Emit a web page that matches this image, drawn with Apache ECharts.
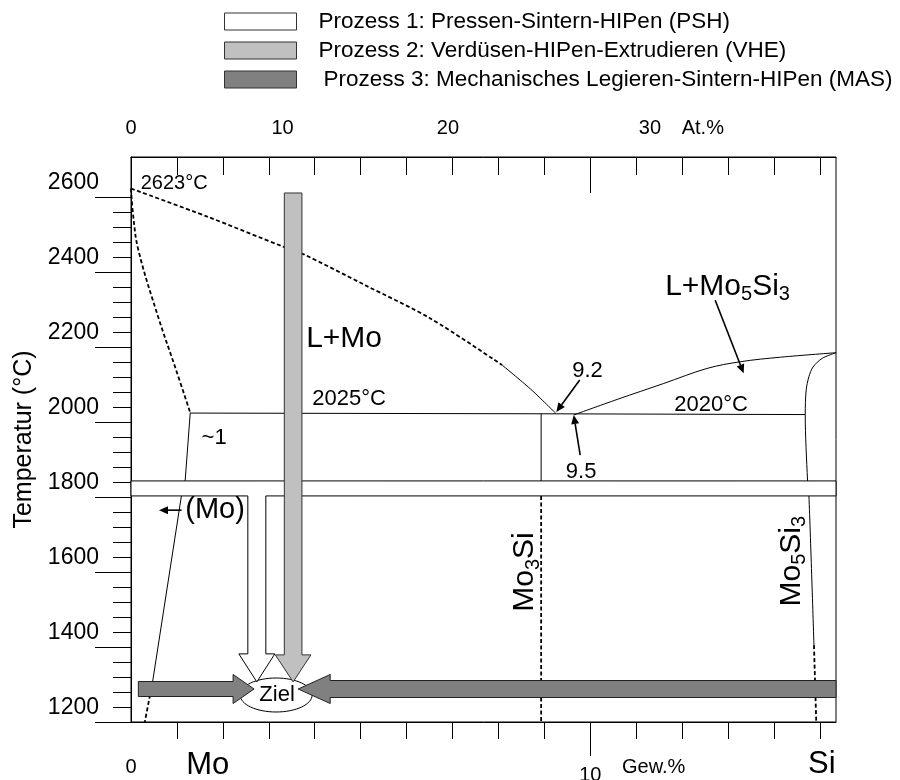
<!DOCTYPE html>
<html><head><meta charset="utf-8">
<script src="https://cdn.jsdelivr.net/npm/echarts@6/dist/echarts.min.js"></script>
<style>html,body{margin:0;padding:0;background:#fff}#c{width:900px;height:780px}</style>
</head><body><div id="c"></div>
<script>
// ===== data: x = Gew.% Si, y = Temperatur (°C) =====
const liquidusMoDashed = [[0,2623],[1.66,2548],[3.33,2467],[3.75,2448],[5.1,2365],[6.51,2277],[8.08,2152]];
const liquidusMoSolid  = [[8.08,2152],[8.7,2088],[9.26,2022]];
const solidusMo        = [[0,2623],[0.05,2548],[0.16,2459],[0.59,2281],[0.96,2147],[1.29,2025]];
const solvusMo         = [[1.29,2025],[1.18,1845],[1.1,1805],[0.47,1307]];
const solvusMoLow      = [[0.47,1307],[0.3,1200]];
const eutecticLine     = [[1.29,2024],[9.26,2022],[14.68,2020]];
const mo3SiUpper       = [[8.93,2022],[8.93,1820]];
const mo3SiLower       = [[8.93,1820],[8.93,1200]];
const liquidusMo5Si3   = [[9.64,2019],[10.6,2061],[11.6,2103],[12.54,2143],[13.27,2161],[14.14,2173],[15.35,2185]];
const mo5Si3Solvus     = [[15.35,2185],[15.05,2170],[14.85,2147],[14.76,2121],[14.70,2085],[14.68,2020],[14.73,1845],[14.76,1805],[14.87,1405]];
const mo5Si3Low        = [[14.87,1405],[14.92,1200]];

const processNames = [
  'Prozess 1: Pressen-Sintern-HIPen (PSH)',
  'Prozess 2: Verdüsen-HIPen-Extrudieren (VHE)',
  'Prozess 3: Mechanisches Legieren-Sintern-HIPen (MAS)'
];
const pshBand   = [1803, 1843];          // sintering temperature band (°C)
const pshPath   = [[2.74, 1307]];        // HIP arrow: x, tip temperature
const vhePath   = [[3.53, 2611, 1307]];  // x, start temperature, tip temperature
const masPaths  = [[0.16, 2.68, 1288], [15.35, 3.64, 1288]]; // tail x, tip x, temperature
const zielPoint = [[3.16, 1272]];
const pointerArrows = [[1.10,1765,0.61,1765],[9.77,2112,9.26,2027],[9.78,1912,9.64,2019],[12.72,2325,13.34,2130]];

const X_MIN = 0, X_MAX = 15.35, Y_MIN = 1200, Y_MAX = 2707;
const wtTicks = [1,2,3,4,5,6,7,8,9,10,11,12,13,14,15];
const tempMajor = [1200,1400,1600,1800,2000,2200,2400,2600];
const topAtLabels = ['0','10','20','30'];
const topAtPos = [0, 3.3, 6.9, 11.3];

// ===== annotations (text anchored in data coordinates) =====
const FONT = '"Liberation Sans", Arial, Helvetica, sans-serif';
const annotations = [
  {text:'2623°C', at:[0.21,2636], size:20, align:'left'},
  {text:'L+Mo', at:[4.64,2221], size:30},
  {text:'2025°C', at:[4.75,2061], size:22},
  {text:'~1', at:[1.81,1959], size:22},
  {text:'(Mo)', at:[1.83,1765], size:29},
  {text:'9.2', at:[9.94,2137], size:22},
  {text:'9.5', at:[9.80,1867], size:22},
  {text:'2020°C', at:[12.63,2045], size:22},
  {text:'{a|L+Mo}{s|5}{a|Si}{s|3}', at:[11.63,2361], size:30, align:'left', rich:true},
  {text:'{a|Mo}{s|3}{a|Si}', at:[8.58,1600], size:30, rich:true, rot:true},
  {text:'{a|Mo}{s|5}{a|Si}{s|3}', at:[14.38,1629], size:30, rich:true, rot:true},
  {text:'Ziel', at:[3.18,1272], size:22},
  {text:'Mo', at:[1.67,1084], size:31},
  {text:'Gew.%', at:[11.38,1080], size:20},
  {text:'Si', at:[15.04,1088], size:31},
  {text:'At.%', at:[11.99,2784], size:20, align:'left'}
];

function range(a,b,s){const r=[];for(let v=a;v<=b+1e-9;v+=s)r.push(v);return r;}
const tempMinor = range(1200,2600,40);

function lineSeries(data, dashed, smooth){
  return {type:'line', data:data, xAxisIndex:0, yAxisIndex:0, symbol:'none', showSymbol:false,
    smooth: smooth || false, silent:true, animation:false, z:2,
    lineStyle:{color:'#000', width: dashed ? 1.8 : 1, type: dashed ? [4,2.5] : 'solid'}};
}

function downArrowPts(api, xv, tTop, tTip, bw, hw, hl){
  const a = api.coord([xv, tTop]), b = api.coord([xv, tTip]); const cx = a[0];
  return [[cx-bw,a[1]],[cx+bw,a[1]],[cx+bw,b[1]-hl],[cx+hw,b[1]-hl],[cx,b[1]],[cx-hw,b[1]-hl],[cx-bw,b[1]-hl]];
}

const chart = echarts.init(document.getElementById('c'), null, {renderer:'canvas'});
const axisCommon = {type:'value', min:X_MIN, max:X_MAX, splitLine:{show:false}};
const yCommon = {type:'value', min:Y_MIN, max:Y_MAX, splitLine:{show:false}};
const plain = function(v){return String(v);};

const option = {
  animation:false,
  backgroundColor:'#fff',
  textStyle:{fontFamily:FONT, color:'#000'},
  legend:{
    data: processNames, orient:'vertical', left:224, top:10, padding:0, itemWidth:72, itemHeight:17, itemGap:6,
    icon:'rect', selectedMode:false,
    itemStyle:{borderColor:'#333', borderWidth:1},
    formatter:function(name){return name === processNames[2] ? '{i|' + name + '}' : name;},
    textStyle:{fontSize:22.5, fontFamily:FONT, color:'#000', padding:[0,0,0,17],
      rich:{i:{fontSize:22.5, fontFamily:FONT, color:'#000', padding:[0,0,0,5]}}}
  },
  grid:{left:131, right:64, top:157, bottom:58, containLabel:false, outerBoundsMode:'none',
    show:true, borderColor:'#000', borderWidth:1, backgroundColor:'transparent'},
  xAxis:[
    Object.assign({}, axisCommon, {position:'bottom',
      axisLine:{show:true, lineStyle:{color:'#000', width:1}},
      axisTick:{show:true, customValues:wtTicks, length:17, lineStyle:{color:'#000', width:1}},
      axisLabel:{show:true, customValues:[0], formatter:plain, margin:35, fontSize:20, color:'#000', fontFamily:FONT}}),
    Object.assign({}, axisCommon, {position:'bottom',
      axisLine:{show:false},
      axisTick:{show:true, customValues:[10], length:34, lineStyle:{color:'#000', width:1}},
      axisLabel:{show:true, customValues:[10], formatter:plain, margin:43, fontSize:20, color:'#000', fontFamily:FONT}}),
    Object.assign({}, axisCommon, {position:'top',
      axisLine:{show:true, lineStyle:{color:'#000', width:1}},
      axisTick:{show:true, inside:true, customValues:wtTicks, length:18, lineStyle:{color:'#000', width:1}},
      axisLabel:{show:true, customValues:topAtPos, formatter:function(v){const i=topAtPos.indexOf(v);return i>=0?topAtLabels[i]:'';}, margin:19, fontSize:20, color:'#000', fontFamily:FONT}}),
    Object.assign({}, axisCommon, {position:'top',
      axisLine:{show:false},
      axisTick:{show:true, inside:true, customValues:[10], length:36, lineStyle:{color:'#000', width:1}},
      axisLabel:{show:false}})
  ],
  yAxis:[
    Object.assign({}, yCommon, {position:'left',
      axisLine:{show:true, lineStyle:{color:'#000', width:1}},
      axisTick:{show:true, customValues:tempMinor, length:18, lineStyle:{color:'#000', width:1}},
      axisLabel:{show:false}}),
    Object.assign({}, yCommon, {position:'left',
      axisLine:{show:false},
      axisTick:{show:true, customValues:tempMajor, length:36, lineStyle:{color:'#000', width:1}},
      axisLabel:{show:true, customValues:tempMajor, formatter:plain, margin:32, fontSize:23, color:'#000', fontFamily:FONT,
        verticalAlign:'bottom', padding:[0,0,3,0]},
      name:'Temperatur (°C)', nameLocation:'middle', nameGap:93,
      nameTextStyle:{fontSize:25, color:'#000', fontFamily:FONT}})
  ],
  series:[
    lineSeries(liquidusMoDashed, true, 0.3),
    lineSeries(liquidusMoSolid, false, 0.3),
    lineSeries(solidusMo, true, 0.4),
    lineSeries(solvusMo, false),
    lineSeries(solvusMoLow, true),
    lineSeries(eutecticLine, false),
    lineSeries(mo3SiUpper, false),
    lineSeries(mo3SiLower, true),
    lineSeries(liquidusMo5Si3, false, 0.35),
    lineSeries(mo5Si3Solvus, false, 0.3),
    lineSeries(mo5Si3Low, true),
    { // target ellipse
      type:'custom', name:'Ziel', data:zielPoint, xAxisIndex:0, yAxisIndex:0, z:3, silent:true, clip:false,
      renderItem:function(params, api){
        const c = api.coord([api.value(0), api.value(1)]);
        return {type:'ellipse', shape:{cx:c[0], cy:c[1], rx:36, ry:17}, style:{fill:'#fff', stroke:'#000', lineWidth:1}};
      }
    },
    { // Prozess 1 (PSH)
      type:'custom', name:processNames[0], data:pshPath, xAxisIndex:0, yAxisIndex:0, z:4, silent:true, clip:false,
      itemStyle:{color:'#ffffff'},
      renderItem:function(params, api){
        const lt = api.coord([X_MIN, pshBand[1]]), rb = api.coord([X_MAX, pshBand[0]]);
        const tip = api.coord([api.value(0), api.value(1)]);
        const yT = lt[1], yB = rb[1], cx = tip[0], bw = 9, hw = 18, hl = 28;
        const pts = [[lt[0],yT],[rb[0],yT],[rb[0],yB],[cx+bw,yB],[cx+bw,tip[1]-hl],[cx+hw,tip[1]-hl],[cx,tip[1]],
          [cx-hw,tip[1]-hl],[cx-bw,tip[1]-hl],[cx-bw,yB],[lt[0],yB]];
        return {type:'polygon', shape:{points:pts}, style:{fill:'#ffffff', stroke:'#000', lineWidth:1}};
      }
    },
    { // Prozess 2 (VHE)
      type:'custom', name:processNames[1], data:vhePath, xAxisIndex:0, yAxisIndex:0, z:5, silent:true, clip:false,
      itemStyle:{color:'#c0c0c0'},
      renderItem:function(params, api){
        const pts = downArrowPts(api, api.value(0), api.value(1), api.value(2), 8.8, 17.8, 27);
        return {type:'polygon', shape:{points:pts}, style:{fill:'#c0c0c0', stroke:'#333', lineWidth:1}};
      }
    },
    { // Prozess 3 (MAS)
      type:'custom', name:processNames[2], data:masPaths, xAxisIndex:0, yAxisIndex:0, z:6, silent:true, clip:false,
      itemStyle:{color:'#808080'},
      renderItem:function(params, api){
        const a = api.coord([api.value(0), api.value(2)]), b = api.coord([api.value(1), api.value(2)]);
        const dir = b[0] > a[0] ? 1 : -1;
        const bh = params.dataIndex === 0 ? 7.5 : 8.5, hh = 14.5, hl = params.dataIndex === 0 ? 21 : 32;
        const cy = a[1], base = b[0] - dir*hl;
        const pts = [[a[0],cy-bh],[base,cy-bh],[base,cy-hh],[b[0],cy],[base,cy+hh],[base,cy+bh],[a[0],cy+bh]];
        return {type:'polygon', shape:{points:pts}, style:{fill:'#808080', stroke:'#222', lineWidth:1}};
      }
    },
    { // thin pointer arrows
      type:'custom', name:'pointers', data:pointerArrows, xAxisIndex:0, yAxisIndex:0, z:7, silent:true, clip:false,
      renderItem:function(params, api){
        const a = api.coord([api.value(0), api.value(1)]), b = api.coord([api.value(2), api.value(3)]);
        const dx = b[0]-a[0], dy = b[1]-a[1], L = Math.sqrt(dx*dx+dy*dy), ux = dx/L, uy = dy/L;
        const hl = 9, hw = 4;
        const bx = b[0]-ux*hl, by = b[1]-uy*hl;
        return {type:'group', children:[
          {type:'line', shape:{x1:a[0], y1:a[1], x2:bx, y2:by}, style:{stroke:'#000', lineWidth:1.6}},
          {type:'polygon', shape:{points:[[b[0],b[1]],[bx-uy*hw,by+ux*hw],[bx+uy*hw,by-ux*hw]]}, style:{fill:'#000'}}
        ]};
      }
    },
    { // text annotations
      type:'custom', name:'annotations', data:annotations.map(function(a){return a.at;}), xAxisIndex:0, yAxisIndex:0,
      z:8, silent:true, clip:false,
      renderItem:function(params, api){
        const an = annotations[params.dataIndex];
        const p = api.coord([api.value(0), api.value(1)]);
        const style = {text:an.text, fill:'#000', font: an.size + 'px ' + FONT,
          align: an.align || 'center', verticalAlign:'middle'};
        if (an.rich) {
          style.rich = {
            a:{fontSize:an.size, lineHeight:36, fontFamily:FONT, fill:'#000'},
            s:{fontSize:Math.round(an.size*0.67), lineHeight:20, fontFamily:FONT, fill:'#000', verticalAlign:'bottom'}
          };
        }
        return {type:'text', x:p[0], y:p[1], rotation: an.rot ? Math.PI/2 : 0, style:style};
      }
    }
  ]
};
chart.setOption(option);
</script>
</body></html>
